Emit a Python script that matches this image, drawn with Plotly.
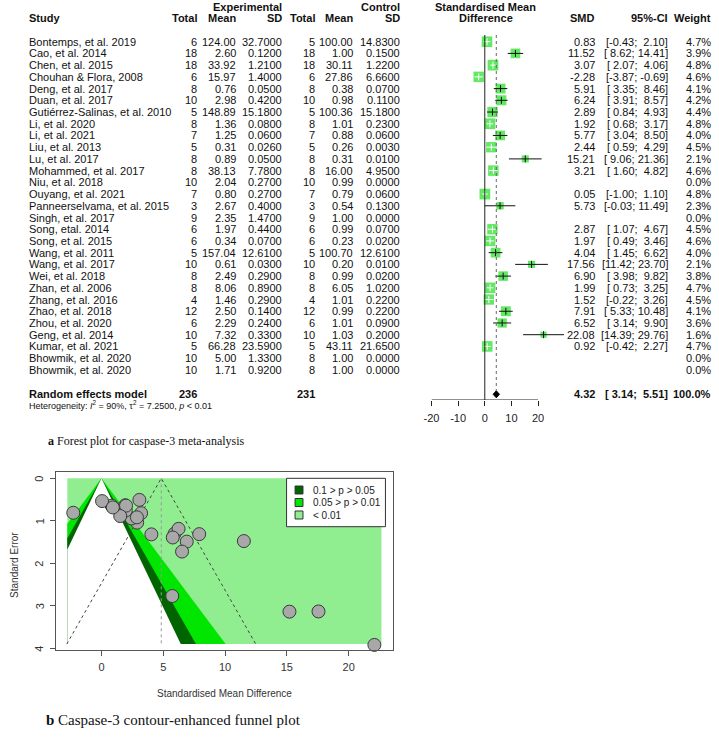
import plotly.graph_objects as go

W, H = 719, 741
def px(x): return x / W
def py(y): return 1 - y / H

# ---------------- data ----------------
studies = ["Bontemps, et al. 2019", "Cao, et al. 2014", "Chen, et al. 2015", "Chouhan & Flora, 2008",
           "Deng, et al. 2017", "Duan, et al. 2017", "Gutiérrez-Salinas, et al. 2010", "Li, et al. 2020",
           "Li, et al. 2021", "Liu, et al. 2013", "Lu, et al. 2017", "Mohammed, et al. 2017",
           "Niu, et al. 2018", "Ouyang, et al. 2021", "Panneerselvama, et al. 2015", "Singh, et al. 2017",
           "Song, etal. 2014", "Song, et al. 2015", "Wang, et al. 2011", "Wang, et al. 2017",
           "Wei, et al. 2018", "Zhan, et al. 2006", "Zhang, et al. 2016", "Zhao, et al. 2018",
           "Zhou, et al. 2020", "Geng, et al. 2014", "Kumar, et al. 2021", "Bhowmik, et al. 2020",
           "Bhowmik, et al. 2020"]
exp_n = [6, 18, 18, 6, 8, 10, 5, 8, 7, 5, 8, 8, 10, 7, 3, 9, 6, 6, 5, 10, 8, 8, 4, 12, 6, 10, 5, 10, 10]
exp_mean = [124.00, 2.60, 33.92, 15.97, 0.76, 2.98, 148.89, 1.36, 1.25, 0.31, 0.89, 38.13, 2.04, 0.80,
            2.67, 2.35, 1.97, 0.34, 157.04, 0.61, 2.49, 8.06, 1.46, 2.50, 2.29, 7.32, 66.28, 5.00, 1.71]
exp_sd = [32.70, 0.12, 1.21, 1.40, 0.05, 0.42, 15.18, 0.08, 0.06, 0.026, 0.05, 7.78, 0.27, 0.27,
          0.40, 1.47, 0.44, 0.07, 12.61, 0.03, 0.29, 0.89, 0.29, 0.14, 0.24, 0.33, 23.59, 1.33, 0.92]
ctl_n = [5, 18, 18, 6, 8, 10, 5, 8, 7, 5, 8, 8, 10, 7, 3, 9, 6, 6, 5, 10, 8, 8, 4, 12, 6, 10, 5, 8, 8]
ctl_mean = [100.00, 1.00, 30.11, 27.86, 0.38, 0.98, 100.36, 1.01, 0.88, 0.26, 0.31, 16.00, 0.99, 0.79,
            0.54, 1.00, 0.99, 0.23, 100.70, 0.20, 0.99, 6.05, 1.01, 0.99, 1.01, 1.03, 43.11, 1.00, 1.00]
ctl_sd = [14.83, 0.15, 1.22, 6.66, 0.07, 0.11, 15.18, 0.23, 0.06, 0.003, 0.01, 4.95, 0.0, 0.06,
          0.13, 0.0, 0.07, 0.02, 12.61, 0.01, 0.02, 1.02, 0.22, 0.22, 0.09, 0.20, 21.65, 0.0, 0.0]
smd = [0.83, 11.52, 3.07, -2.28, 5.91, 6.24, 2.89, 1.92, 5.77, 2.44, 15.21, 3.21, None, 0.05,
       5.73, None, 2.87, 1.97, 4.04, 17.56, 6.90, 1.99, 1.52, 7.91, 6.52, 22.08, 0.92, None, None]
ci_lo = [-0.43, 8.62, 2.07, -3.87, 3.35, 3.91, 0.84, 0.68, 3.04, 0.59, 9.06, 1.60, None, -1.00,
         -0.03, None, 1.07, 0.49, 1.45, 11.42, 3.98, 0.73, -0.22, 5.33, 3.14, 14.39, -0.42, None, None]
ci_hi = [2.10, 14.41, 4.06, -0.69, 8.46, 8.57, 4.93, 3.17, 8.50, 4.29, 21.36, 4.82, None, 1.10,
         11.49, None, 4.67, 3.46, 6.62, 23.70, 9.82, 3.25, 3.26, 10.48, 9.90, 29.76, 2.27, None, None]
weight = [4.7, 3.9, 4.8, 4.6, 4.1, 4.2, 4.4, 4.8, 4.0, 4.5, 2.1, 4.6, 0.0, 4.8,
          2.3, 0.0, 4.5, 4.6, 4.0, 2.1, 3.8, 4.7, 4.5, 4.1, 3.6, 1.6, 4.7, 0.0, 0.0]

total_exp, total_ctl = 236, 231
pooled_smd, pooled_lo, pooled_hi = 4.32, 3.14, 5.51
forest_ticks = [-20, -10, 0, 10, 20]
forest_tick_text = ["-20", "-10", "0", "10", "20"]

# funnel plot
funnel_smd = [0.83, 11.52, 3.07, -2.28, 5.91, 6.24, 2.89, 1.92, 5.77, 2.44, 15.21, 3.21, 0.05,
              5.73, 2.87, 1.97, 4.04, 17.56, 6.90, 1.99, 1.52, 7.91, 6.52, 22.08, 0.92]
funnel_se = [0.645, 1.477, 0.508, 0.811, 1.304, 1.189, 1.043, 0.635, 1.393, 0.944, 3.138, 0.821, 0.536,
             2.77, 0.918, 0.758, 1.319, 3.133, 1.490, 0.643, 0.888, 1.314, 1.724, 3.92, 0.686]
funnel_center = 4.84
contour_z = [2.576, 1.96, 1.645]   # <0.01 | 0.05-0.01 | 0.1-0.05 boundaries
contour_labels = ["0.1 > p > 0.05", "0.05 > p > 0.01", "< 0.01"]
contour_colors = ["#006400", "#00E600", "#90EE90"]
funnel_xticks = [0, 5, 10, 15, 20]
funnel_yticks = [0, 1, 2, 3, 4]
region_xmin, region_xmax = -2.76, 22.65

# ---------------- figure ----------------
fig = go.Figure()
FONT = "Liberation Sans, Arial, sans-serif"
SERIF = "Liberation Serif, Times New Roman, serif"
NB = "\u00a0"
BOX_GREEN = "#22DD22"

X_PER_UNIT = (536 - 428.3) / 40.0
FX_MIN, FX_MAX = -20, 32          # forest x range (axis line drawn -20..20 only)
ROW_PX0, ROW_STEP = 41.7, 11.72
def row_of(pix): return (pix - ROW_PX0) / ROW_STEP

max_w = max(weight)
MAX_BOX = 10.7

black_x, black_y, white_x, white_y = [], [], [], []
box_x, box_y, box_s = [], [], []
tick_bx, tick_by, tick_wx, tick_wy = [], [], [], []
for i, s in enumerate(smd):
    if s is None:
        continue
    size = MAX_BOX * (weight[i] / max_w) ** 0.5
    box_x.append(s); box_y.append(i); box_s.append(size)
    width_px = (ci_hi[i] - ci_lo[i]) * X_PER_UNIT
    if width_px > size:
        black_x += [ci_lo[i], ci_hi[i], None]; black_y += [i, i, None]
        tick_bx.append(s); tick_by.append(i)
    else:
        white_x += [ci_lo[i], ci_hi[i], None]; white_y += [i, i, None]
        tick_wx.append(s); tick_wy.append(i)

fig.add_trace(go.Scatter(x=box_x, y=box_y, mode="markers", xaxis="x", yaxis="y",
                         marker=dict(symbol="square", size=box_s, color=BOX_GREEN, line=dict(width=0)),
                         hoverinfo="skip", cliponaxis=False))
fig.add_trace(go.Scatter(x=black_x, y=black_y, mode="lines", xaxis="x", yaxis="y",
                         line=dict(color="#111", width=1), hoverinfo="skip", cliponaxis=False))
fig.add_trace(go.Scatter(x=white_x, y=white_y, mode="lines", xaxis="x", yaxis="y",
                         line=dict(color="white", width=1), hoverinfo="skip", cliponaxis=False))
fig.add_trace(go.Scatter(x=tick_bx, y=tick_by, mode="markers", xaxis="x", yaxis="y",
                         marker=dict(symbol="line-ns", size=5, line=dict(color="#111", width=1)),
                         hoverinfo="skip", cliponaxis=False))
fig.add_trace(go.Scatter(x=tick_wx, y=tick_wy, mode="markers", xaxis="x", yaxis="y",
                         marker=dict(symbol="line-ns", size=5, line=dict(color="white", width=1)),
                         hoverinfo="skip", cliponaxis=False))

pooled_row = row_of(394.3)
dh = 0.3
fig.add_trace(go.Scatter(x=[pooled_lo, pooled_smd, pooled_hi, pooled_smd, pooled_lo],
                         y=[pooled_row, pooled_row - dh, pooled_row, pooled_row + dh, pooled_row],
                         mode="lines", fill="toself", fillcolor="black", line=dict(color="black", width=1),
                         xaxis="x", yaxis="y", hoverinfo="skip", cliponaxis=False))

top_row = row_of(35)
bottom_row = row_of(400)
fig.add_shape(type="line", xref="x", yref="y", x0=0, x1=0, y0=top_row, y1=bottom_row,
              line=dict(color="#222", width=1))
fig.add_shape(type="line", xref="x", yref="y", x0=pooled_smd, x1=pooled_smd, y0=top_row,
              y1=pooled_row - dh, line=dict(color="#666", width=1, dash="dot"))
# forest axis line only across the tick span
fig.add_shape(type="line", xref="x", yref="y", x0=forest_ticks[0], x1=forest_ticks[-1],
              y0=bottom_row, y1=bottom_row, line=dict(color="#222", width=1))

# ---------------- text ----------------
ann = []
def T(text, x, y, anchor="right", size=11, bold=False, yref="y", color="#111", family=FONT,
      xref="paper", angle=0):
    if bold:
        text = "<b>" + text + "</b>"
    ann.append(dict(text=text, x=px(x) if xref == "paper" else x, y=y, xref=xref, yref=yref,
                    xanchor=anchor, yanchor="middle", showarrow=False, textangle=angle,
                    font=dict(family=family, size=size, color=color), borderpad=0))

hy1, hy2 = py(6.5), py(17.7)
T("Experimental", 278, hy1, bold=True, yref="paper")
T("Control", 397, hy1, bold=True, yref="paper")
T("Standardised Mean", 483, hy1, anchor="center", bold=True, yref="paper")
T("Study", 20, hy2, anchor="left", bold=True, yref="paper")
T("Total", 192, hy2, bold=True, yref="paper")
T("Mean", 232, hy2, bold=True, yref="paper")
T("SD", 278, hy2, bold=True, yref="paper")
T("Total", 311, hy2, bold=True, yref="paper")
T("Mean", 350, hy2, bold=True, yref="paper")
T("SD", 397, hy2, bold=True, yref="paper")
T("Difference", 483, hy2, anchor="center", bold=True, yref="paper")
T("SMD", 595, hy2, bold=True, yref="paper")
T("95%-CI", 668, hy2, bold=True, yref="paper")
T("Weight", 712, hy2, bold=True, yref="paper")

def ci_fmt(lo, hi):
    return ("[%5.2f; %5.2f]" % (lo, hi)).replace(" ", NB)

for i, name in enumerate(studies):
    T(name, 20, i, anchor="left")
    T(str(exp_n[i]), 192, i)
    T("%.2f" % exp_mean[i], 232, i)
    T("%.4f" % exp_sd[i], 278, i)
    T(str(ctl_n[i]), 311, i)
    T("%.2f" % ctl_mean[i], 350, i)
    T("%.4f" % ctl_sd[i], 397, i)
    if smd[i] is not None:
        T("%.2f" % smd[i], 595, i)
        T(ci_fmt(ci_lo[i], ci_hi[i]), 668, i)
    T("%.1f%%" % weight[i], 712, i)

T("Random effects model", 20, pooled_row, anchor="left", bold=True)
T(str(total_exp), 192, pooled_row, bold=True)
T(str(total_ctl), 311, pooled_row, bold=True)
T("%.2f" % pooled_smd, 595, pooled_row, bold=True)
T(ci_fmt(pooled_lo, pooled_hi), 668, pooled_row, bold=True)
T("100.0%", 712, pooled_row, bold=True)
T("Heterogeneity: <i>I</i><sup>2</sup> = 90%, τ<sup>2</sup> = 7.2500, <i>p</i> < 0.01", 20,
  py(405), anchor="left", size=9, yref="paper")

T("<b>a</b> Forest plot for caspase-3 meta-analysis", 39, py(441), anchor="left", size=12,
  yref="paper", family=SERIF)

# ---------------- funnel plot ----------------
se_max = round(max(funnel_se), 1)
fig.add_trace(go.Scatter(x=[region_xmin, region_xmax, region_xmax, region_xmin, region_xmin],
                         y=[0, 0, se_max, se_max, 0], mode="lines", fill="toself",
                         fillcolor=contour_colors[2], line=dict(width=0), xaxis="x2", yaxis="y2",
                         hoverinfo="skip"))
fills = [contour_colors[1], contour_colors[0], "white"]
for z, col in zip(contour_z, fills):
    xs = [0, z * se_max, region_xmin, region_xmin, 0]
    ys = [0, se_max, se_max, -region_xmin / z, 0]
    fig.add_trace(go.Scatter(x=xs, y=ys, mode="lines", fill="toself", fillcolor=col,
                             line=dict(width=0), xaxis="x2", yaxis="y2", hoverinfo="skip"))

z95 = 1.96
fig.add_trace(go.Scatter(x=[funnel_center - z95 * se_max, funnel_center, funnel_center + z95 * se_max],
                         y=[se_max, 0, se_max], mode="lines", line=dict(color="#444", width=1, dash="dot"),
                         xaxis="x2", yaxis="y2", hoverinfo="skip"))
fig.add_trace(go.Scatter(x=[funnel_center, funnel_center], y=[0, se_max], mode="lines",
                         line=dict(color="#999", width=1, dash="dot"), xaxis="x2", yaxis="y2",
                         hoverinfo="skip"))
fig.add_trace(go.Scatter(x=funnel_smd, y=funnel_se, mode="markers",
                         marker=dict(size=13, color="#A8A8A8", line=dict(color="#3a3a3a", width=1)),
                         xaxis="x2", yaxis="y2", hoverinfo="skip", cliponaxis=False))

fig.add_shape(type="rect", xref="paper", yref="paper", x0=px(281.7), x1=px(381.7), y0=py(526.7),
              y1=py(478.3), line=dict(color="#333", width=1), fillcolor="white")
for k, (lab, col) in enumerate(zip(contour_labels, contour_colors)):
    cy = 490 + k * 12.5
    fig.add_shape(type="rect", xref="paper", yref="paper", x0=px(290.3), x1=px(298.3),
                  y0=py(cy + 4), y1=py(cy - 4), line=dict(color="#333", width=1), fillcolor=col)
    T(lab, 307.3, py(cy), anchor="left", size=10, yref="paper", color="#222")

for v in funnel_yticks:
    T(str(v), 31.7, v, anchor="center", size=11, yref="y2", color="#333", angle=-90)

T("Standard Error", 6, py(565), anchor="center", size=10, yref="paper", color="#333", angle=-90)
T("Standardised Mean Difference", 219, py(693), anchor="center", size=10, yref="paper", color="#333")
T("<b>b</b> Caspase-3 contour-enhanced funnel plot", 37, py(720), anchor="left", size=15,
  yref="paper", family=SERIF)

# ---------------- axes ----------------
fx0, fx1 = (48.3 - 94.5) / 12.5, (389.3 - 94.5) / 12.5
fy_top, fy_bot = (472.3 - 478.3) / 42.5, (650 - 478.3) / 42.5
forest_right_px = 428.3 + (FX_MAX - FX_MIN) * X_PER_UNIT

fig.update_layout(
    width=W, height=H, autosize=False, margin=dict(l=0, r=0, t=0, b=0),
    paper_bgcolor="white", plot_bgcolor="rgba(0,0,0,0)", showlegend=False,
    annotations=ann,
    xaxis=dict(domain=[px(428.3), px(forest_right_px)], range=[FX_MIN, FX_MAX],
               tickvals=forest_ticks, ticktext=forest_tick_text,
               showline=False, ticks="outside", ticklen=5,
               tickcolor="#222", showgrid=False, zeroline=False, anchor="y", ticklabelstandoff=3,
               tickfont=dict(family=FONT, size=11, color="#222")),
    yaxis=dict(domain=[py(400), py(30)], range=[row_of(400), row_of(30)], visible=False,
               showgrid=False, zeroline=False),
    xaxis2=dict(domain=[px(48.3), px(389.3)], range=[fx0, fx1], tickvals=funnel_xticks,
                showline=True, mirror=True, linecolor="#555", linewidth=1, ticks="outside",
                ticklen=5, tickcolor="#555", showgrid=False, zeroline=False, anchor="y2",
                ticklabelstandoff=2, tickfont=dict(family=FONT, size=11, color="#333")),
    yaxis2=dict(domain=[py(650), py(472.3)], range=[fy_bot, fy_top], tickvals=funnel_yticks,
                showline=True, mirror=True, linecolor="#555", linewidth=1, ticks="outside",
                ticklen=5, tickcolor="#555", showgrid=False, zeroline=False, anchor="x2",
                showticklabels=False),
)

fig.write_html("out.html", config={"displayModeBar": False},
               post_script="document.body.style.margin='0';document.body.style.overflow='hidden';")
